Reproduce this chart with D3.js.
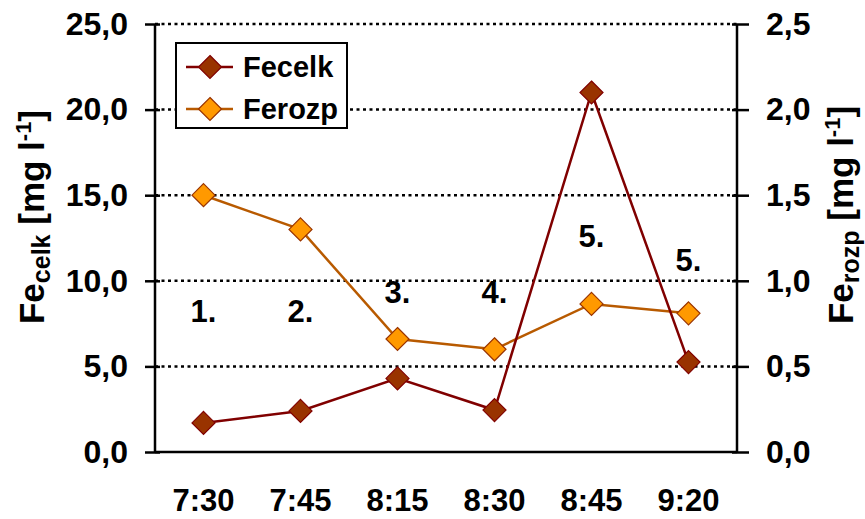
<!DOCTYPE html>
<html>
<head>
<meta charset="utf-8">
<script src="https://cdn.jsdelivr.net/npm/d3@7"></script>
<style>
  html, body { margin: 0; padding: 0; background: #fff; }
  svg { display: block; font-family: "Liberation Sans", Arial, sans-serif; font-weight: bold; }
</style>
</head>
<body>
<svg id="chart" width="865" height="519"></svg>
<script>
// ---- data ----
const categories = ["7:30", "7:45", "8:15", "8:30", "8:45", "9:20"];
const fecelk = [1.7, 2.4, 4.3, 2.45, 21.0, 5.25];     // left axis, mg/l
const ferozp = [1.50, 1.30, 0.66, 0.60, 0.865, 0.81]; // right axis, mg/l
const leftTicks = [0, 5, 10, 15, 20, 25];
const rightTicks = [0, 0.5, 1.0, 1.5, 2.0, 2.5];
const seriesNames = ["Fecelk", "Ferozp"];
const annotLabels = ["1.", "2.", "3.", "4.", "5.", "5."];
const annotLevels = [7.6, 7.6, 8.7, 8.7, 12.0, 10.6]; // in left-axis units

// ---- layout ----
const L = 155, R = 737, T = 24, B = 452;
const FONT = "Liberation Sans, Arial, sans-serif";
const svg = d3.select("#chart");
const x = d3.scaleBand().domain(categories).range([L, R]);
const cx = c => x(c) + x.bandwidth() / 2;
const yL = d3.scaleLinear().domain([0, 25]).range([B, T]);
const yR = d3.scaleLinear().domain([0, 2.5]).range([B, T]);
const fmt = v => d3.format(".1f")(v).replace(".", ",");

const c1 = { line: "#800000", fill: "#993300", stroke: "#800000" };
const c2 = { line: "#B85A00", fill: "#FF9900", stroke: "#993300" };

// diamond symbol (square rotated 45°), size = half-diagonal
const diamond = {
  draw(ctx, r) { ctx.moveTo(0, -r); ctx.lineTo(r, 0); ctx.lineTo(0, r); ctx.lineTo(-r, 0); ctx.closePath(); }
};
const sym = d3.symbol().type(diamond).size(11.5);

// gridlines (dotted)
svg.append("g").selectAll("line").data(leftTicks.filter(d => d > 0)).join("line")
  .attr("x1", L).attr("x2", R).attr("y1", d => yL(d)).attr("y2", d => yL(d))
  .attr("stroke", "#000").attr("stroke-width", 2.5).attr("stroke-dasharray", "3,3.5");

// left axis
const gl = svg.append("g").attr("transform", `translate(${L},0)`)
  .call(d3.axisLeft(yL).tickValues(leftTicks).tickFormat(fmt).tickSize(10).tickPadding(17));
gl.select(".domain").remove();
gl.append("line").attr("x1", 0).attr("x2", 0).attr("y1", T).attr("y2", B).attr("stroke", "#000").attr("stroke-width", 2.5);
gl.selectAll(".tick line").attr("stroke", "#000").attr("stroke-width", 2.5).attr("x2", -10).attr("x1", 5);
gl.selectAll(".tick text").attr("font-size", 32).attr("font-weight", "bold").attr("fill", "#000")
  .attr("font-family", FONT);

// right axis
const gr = svg.append("g").attr("transform", `translate(${R},0)`)
  .call(d3.axisRight(yR).tickValues(rightTicks).tickFormat(fmt).tickSize(10).tickPadding(19));
gr.select(".domain").remove();
gr.append("line").attr("x1", 0).attr("x2", 0).attr("y1", T).attr("y2", B).attr("stroke", "#000").attr("stroke-width", 2.5);
gr.selectAll(".tick line").attr("stroke", "#000").attr("stroke-width", 2.5).attr("x1", -5).attr("x2", 12);
gr.selectAll(".tick text").attr("font-size", 32).attr("font-weight", "bold").attr("fill", "#000")
  .attr("font-family", FONT);

// bottom axis
const gb = svg.append("g").attr("transform", `translate(0,${B})`)
  .call(d3.axisBottom(x).tickSize(0).tickPadding(37));
gb.select(".domain").remove();
gb.append("line").attr("x1", L).attr("x2", R).attr("y1", 0).attr("y2", 0).attr("stroke", "#000").attr("stroke-width", 2.5);
gb.selectAll(".tick text").attr("font-size", 31).attr("font-weight", "bold").attr("fill", "#000")
  .attr("font-family", FONT);

// series
function drawSeries(vals, scale, col) {
  const pts = categories.map((c, i) => [cx(c), scale(vals[i])]);
  svg.append("path").attr("d", d3.line()(pts)).attr("fill", "none")
    .attr("stroke", col.line).attr("stroke-width", 2.5);
  svg.append("g").selectAll("path").data(pts).join("path")
    .attr("transform", d => `translate(${d[0]},${d[1]})`).attr("d", sym())
    .attr("fill", col.fill).attr("stroke", col.stroke).attr("stroke-width", 1.2);
}
drawSeries(ferozp, yR, c2);
drawSeries(fecelk, yL, c1);

// annotation labels
svg.append("g").selectAll("text").data(annotLabels).join("text")
  .attr("x", (d, i) => cx(categories[i])).attr("y", (d, i) => yL(annotLevels[i]))
  .attr("text-anchor", "middle").attr("font-size", 31).text(d => d);

// legend
const lg = svg.append("g");
lg.append("rect").attr("x", 176).attr("y", 43).attr("width", 171).attr("height", 85)
  .attr("fill", "#fff").attr("stroke", "#000").attr("stroke-width", 2);
[c1, c2].forEach((col, i) => {
  const yy = 67 + i * 42;
  lg.append("line").attr("x1", 186).attr("x2", 233).attr("y1", yy).attr("y2", yy)
    .attr("stroke", col.line).attr("stroke-width", 2.5);
  lg.append("path").attr("transform", `translate(210,${yy})`).attr("d", sym())
    .attr("fill", col.fill).attr("stroke", col.stroke).attr("stroke-width", 1.2);
  lg.append("text").attr("x", 243).attr("y", yy + 10).attr("font-size", 29).text(seriesNames[i]);
});

// axis titles
function title(xPos, yCenter, sub) {
  const t = svg.append("text").attr("transform", `translate(${xPos},${yCenter}) rotate(-90)`)
    .attr("text-anchor", "middle").attr("font-size", 35);
  t.append("tspan").text("Fe");
  t.append("tspan").attr("font-size", 25).attr("dy", 6).text(sub);
  t.append("tspan").attr("dy", -6).text(" [mg l");
  t.append("tspan").attr("font-size", 22).attr("dy", -13).text("-1");
  t.append("tspan").attr("dy", 13).text("]");
}
title(44, 217, "celk");
title(853, 215, "rozp");
</script>
</body>
</html>
